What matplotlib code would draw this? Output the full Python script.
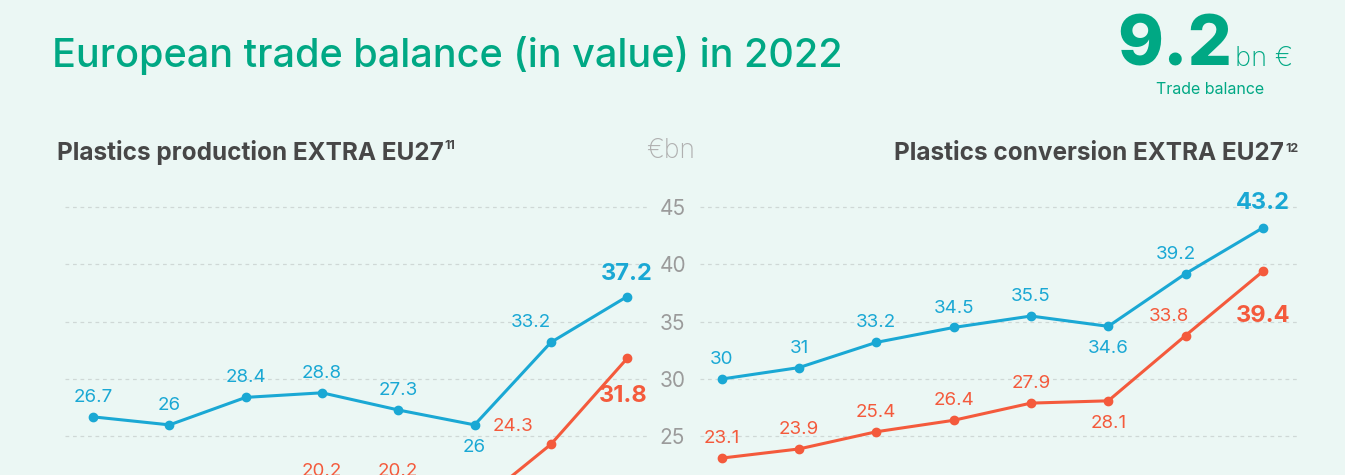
import matplotlib.pyplot as plt

plt.rcParams['font.family'] = ['Inter', 'DejaVu Sans']

# data (€ bn)
years = [2015, 2016, 2017, 2018, 2019, 2020, 2021, 2022]
prod_exports = [26.7, 26.0, 28.4, 28.8, 27.3, 26.0, 33.2, 37.2]
prod_imports = [18.8, 18.4, 19.0, 20.2, 20.2, 18.9, 24.3, 31.8]
conv_exports = [30.0, 31.0, 33.2, 34.5, 35.5, 34.6, 39.2, 43.2]
conv_imports = [23.1, 23.9, 25.4, 26.4, 27.9, 28.1, 33.8, 39.4]
yticks = [25, 30, 35, 40, 45]

BG = '#ebf7f4'
BLUE = '#1aa8d4'
RED = '#f45a3c'
GREEN = '#00a884'
DARK = '#474747'
GREY = '#9b9b9b'

W, H = 1345, 475
fig = plt.figure(figsize=(W / 100, H / 100), dpi=100)
fig.patch.set_facecolor(BG)


def px_axes(x0, x1, y0, y1):
    # pixel box (from top-left) -> figure fraction
    return fig.add_axes([x0 / W, 1 - y1 / H, (x1 - x0) / W, (y1 - y0) / H])


def style(ax, xlim):
    ax.set_facecolor('none')
    ax.set_xlim(*xlim)
    ax.set_ylim(17, 46.5)
    ax.set_yticks(yticks)
    ax.set_xticks([])
    for s in ax.spines.values():
        s.set_visible(False)
    ax.grid(axis='y', color='#cfd8d6', linestyle=(0, (3, 3)), linewidth=0.9)
    ax.tick_params(axis='y', length=0)


def label(ax, x, y, txt, color, pos, bold=False):
    dx, dy = pos
    ax.annotate(txt, (x, y), xytext=(dx, dy), textcoords='offset points',
                ha='center', va='center', color=color,
                fontsize=17 if bold else 13.5,
                fontweight='bold' if bold else 'normal')


x = list(range(len(years)))

# left chart: plastics production
ax1 = px_axes(65, 650, 190, 528)
style(ax1, (-0.37, 7.3))
ax1.yaxis.tick_right()
ax1.tick_params(axis='y', pad=7, labelsize=15, labelcolor=GREY)
ax1.plot(x, prod_exports, color=BLUE, lw=2.2, marker='o', ms=6, clip_on=False)
ax1.plot(x, prod_imports, color=RED, lw=2.2, marker='o', ms=6, clip_on=False)

up = (0, 14)
down = (0, -16)
prod_exp_pos = [up, up, up, up, up, down, (-14, 14), (0, 16)]
prod_imp_pos = [up, up, up, up, up, up, (-27, 13), (-3, -27)]
for i in x:
    last = i == len(x) - 1
    label(ax1, i, prod_exports[i], f'{prod_exports[i]:g}', BLUE, prod_exp_pos[i], last)
    label(ax1, i, prod_imports[i], f'{prod_imports[i]:g}', RED, prod_imp_pos[i], last)

# right chart: plastics conversion
ax2 = px_axes(700, 1300, 190, 528)
style(ax2, (-0.28, 7.48))
ax2.set_yticklabels([])
ax2.plot(x, conv_exports, color=BLUE, lw=2.2, marker='o', ms=6, clip_on=False)
ax2.plot(x, conv_imports, color=RED, lw=2.2, marker='o', ms=6, clip_on=False)

conv_exp_pos = [up, up, up, up, up, down, (-7, 14), (0, 18)]
conv_imp_pos = [up, up, up, up, up, down, (-12, 14), (0, -32)]
for i in x:
    last = i == len(x) - 1
    label(ax2, i, conv_exports[i], f'{conv_exports[i]:g}', BLUE, conv_exp_pos[i], last)
    label(ax2, i, conv_imports[i], f'{conv_imports[i]:g}', RED, conv_imp_pos[i], last)

# titles
fig.text(52 / W, 1 - 67 / H, 'European trade balance (in value) in 2022',
         color=GREEN, fontsize=28.5, fontweight='medium', va='baseline', ha='left')

fig.text(1232 / W, 1 - 66 / H, '9.2', color=GREEN, fontsize=50,
         fontweight='heavy', ha='right', va='baseline')
fig.text(1235 / W, 1 - 66 / H, 'bn €', color=GREEN, fontsize=19.5,
         fontweight='light', ha='left', va='baseline')
fig.text(1210 / W, 1 - 89 / H, 'Trade balance', color=GREEN, fontsize=11.5,
         ha='center', va='center')

t1 = fig.text(57 / W, 1 - 160 / H, 'Plastics production EXTRA EU27', color=DARK,
              fontsize=17.5, fontweight='bold', ha='left', va='baseline')
plt.annotate('11', xy=(1, 1), xycoords=t1, xytext=(0.5, 0), textcoords='offset points',
             color=DARK, fontsize=9, fontweight='bold', ha='left', va='top')

s2 = fig.text(1298 / W, 1 - 143 / H, '12', color=DARK, fontsize=9,
              fontweight='bold', ha='right', va='top')
plt.annotate('Plastics conversion EXTRA EU27', xy=(0, 1 - 160 / H),
             xycoords=(s2, 'figure fraction'), xytext=(-0.5, 0),
             textcoords='offset points', color=DARK, fontsize=17.5,
             fontweight='bold', ha='right', va='baseline')

fig.text(671 / W, 1 - 158 / H, '€bn', color='#b0b0b0', fontsize=19,
         fontweight='light', ha='center', va='baseline')

fig.savefig('out.png', dpi=100, facecolor=BG)
